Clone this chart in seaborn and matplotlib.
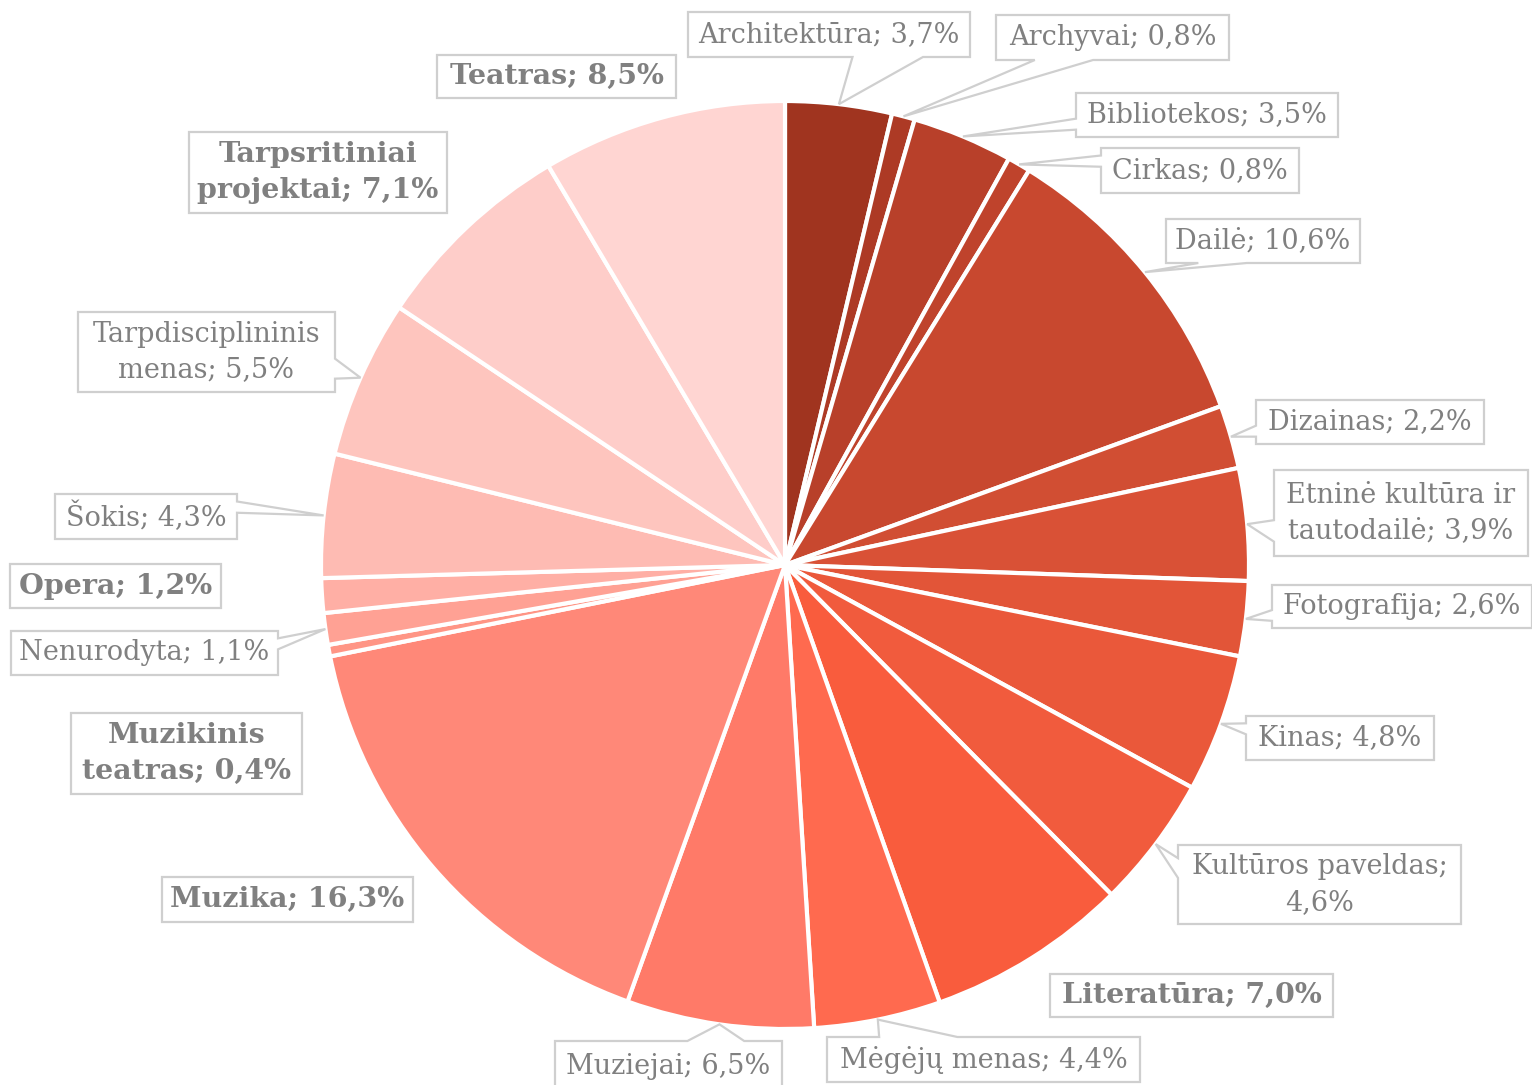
import numpy as np
import matplotlib
matplotlib.use("Agg")
import matplotlib.pyplot as plt
import seaborn as sns
from matplotlib.patches import Polygon

# data
categories = ["Architektūra", "Archyvai", "Bibliotekos", "Cirkas", "Dailė",
              "Dizainas", "Etninė kultūra ir tautodailė", "Fotografija", "Kinas",
              "Kultūros paveldas", "Literatūra", "Mėgėjų menas", "Muziejai",
              "Muzika", "Muzikinis teatras", "Nenurodyta", "Opera", "Šokis",
              "Tarpdisciplininis menas", "Tarpsritiniai projektai", "Teatras"]
shares = [3.7, 0.8, 3.5, 0.8, 10.6, 2.2, 3.9, 2.6, 4.8, 4.6, 7.0, 4.4, 6.5,
          16.3, 0.4, 1.1, 1.2, 4.3, 5.5, 7.1, 8.5]
bold_cats = ["Literatūra", "Muzika", "Muzikinis teatras", "Opera",
             "Tarpsritiniai projektai", "Teatras"]
# how the label text wraps
label_lines = {"Etninė kultūra ir tautodailė": "Etninė kultūra ir\ntautodailė",
               "Kultūros paveldas": "Kultūros paveldas;\n",
               "Muzikinis teatras": "Muzikinis\nteatras",
               "Tarpdisciplininis menas": "Tarpdisciplininis\nmenas",
               "Tarpsritiniai projektai": "Tarpsritiniai\nprojektai"}

colors = ["#A0341F", "#AD3A25", "#B8402A", "#BF432C", "#C8482F", "#D14E33",
          "#D95136", "#E25538", "#EA583A", "#F15B3D", "#F95C3D", "#FF6A4F",
          "#FF7A68", "#FF8878", "#FF9585", "#FFA194", "#FFAFA5", "#FEBBB3",
          "#FEC5BE", "#FECDC9", "#FFD5D2"]

# label boxes, image pixels (x0, y0, x1, y1), y measured from top
label_boxes = [(688, 12, 970, 57), (996, 15, 1229, 60), (1076, 93, 1338, 137),
               (1101, 148, 1299, 193), (1166, 219, 1360, 263),
               (1256, 400, 1484, 444), (1274, 470, 1528, 556),
               (1272, 585, 1532, 628), (1246, 716, 1434, 760),
               (1178, 845, 1461, 924), (1050, 974, 1333, 1017),
               (827, 1037, 1140, 1082), (555, 1041, 782, 1092),
               (162, 877, 413, 922), (71, 713, 302, 794), (11, 631, 278, 675),
               (10, 564, 221, 608), (55, 494, 237, 539), (78, 312, 335, 392),
               (189, 132, 447, 213), (437, 55, 676, 98)]

W, H = 1532, 1085
CX, CY, R = 785, 565, 464
text_col = "#808080"
edge_col = "#CFCFCF"

sns.set_theme(style="white")
plt.rcParams['font.family'] = ['DejaVu Serif']


def fmt(v):
    return f"{v:.1f}".replace(".", ",") + "%"


def callout(box, tip):
    # rectangle with a wedge pointing at tip (office style wedge callout)
    x0, y0, x1, y1 = box
    w, h = x1 - x0, y1 - y0
    hc, vc = (x0 + x1) / 2, (y0 + y1) / 2
    tx, ty = tip
    dx, dy = tx - hc, ty - vc
    dz = abs(dy) - abs(dx * h / w)
    top, right, bottom, left = [], [], [], []
    if dz > 0:
        f = (7, 10) if dx > 0 else (2, 5)
        xa, xb = x0 + w * f[0] / 12, x0 + w * f[1] / 12
        if dy < 0:
            top = [(xa, y0), (tx, ty), (xb, y0)]
        else:
            bottom = [(xb, y1), (tx, ty), (xa, y1)]
    else:
        f = (7, 10) if dy > 0 else (2, 5)
        ya, yb = y0 + h * f[0] / 12, y0 + h * f[1] / 12
        if dx > 0:
            right = [(x1, ya), (tx, ty), (x1, yb)]
        else:
            left = [(x0, yb), (tx, ty), (x0, ya)]
    pts = [(x0, y0)] + top + [(x1, y0)] + right + [(x1, y1)] + bottom + [(x0, y1)] + left
    return [(px, H - py) for px, py in pts]


fig = plt.figure(figsize=(W / 100, H / 100), dpi=100)
ax = fig.add_axes([0, 0, 1, 1])
wedges, _ = ax.pie(shares, colors=colors, startangle=90, counterclock=False,
                   radius=R, center=(CX, H - CY),
                   wedgeprops=dict(edgecolor="white", linewidth=3))
ax.set_xlim(0, W)
ax.set_ylim(0, H)
ax.set_aspect("equal")
ax.axis("off")

for cat, val, wdg, box in zip(categories, shares, wedges, label_boxes):
    bold = cat in bold_cats
    txt = label_lines.get(cat, cat)
    if txt.endswith("\n"):
        txt = txt + fmt(val)
    else:
        txt = txt + "; " + fmt(val)
    x0, y0, x1, y1 = box
    if bold:
        pts = [(x0, H - y0), (x1, H - y0), (x1, H - y1), (x0, H - y1)]
    else:
        ang = np.deg2rad((wdg.theta1 + wdg.theta2) / 2)
        tip = (CX + R * np.cos(ang), CY - R * np.sin(ang))
        pts = callout(box, tip)
    ax.add_patch(Polygon(pts, closed=True, facecolor="white", edgecolor=edge_col,
                         lw=1.6, joinstyle="miter", zorder=3))
    ax.text((x0 + x1) / 2, H - (y0 + y1) / 2, txt, ha="center", va="center",
            multialignment="center", fontsize=20.5 if bold else 19.5,
            color=text_col, fontweight="bold" if bold else "normal",
            linespacing=1.4, zorder=4)

fig.savefig("out.png", dpi=100)
